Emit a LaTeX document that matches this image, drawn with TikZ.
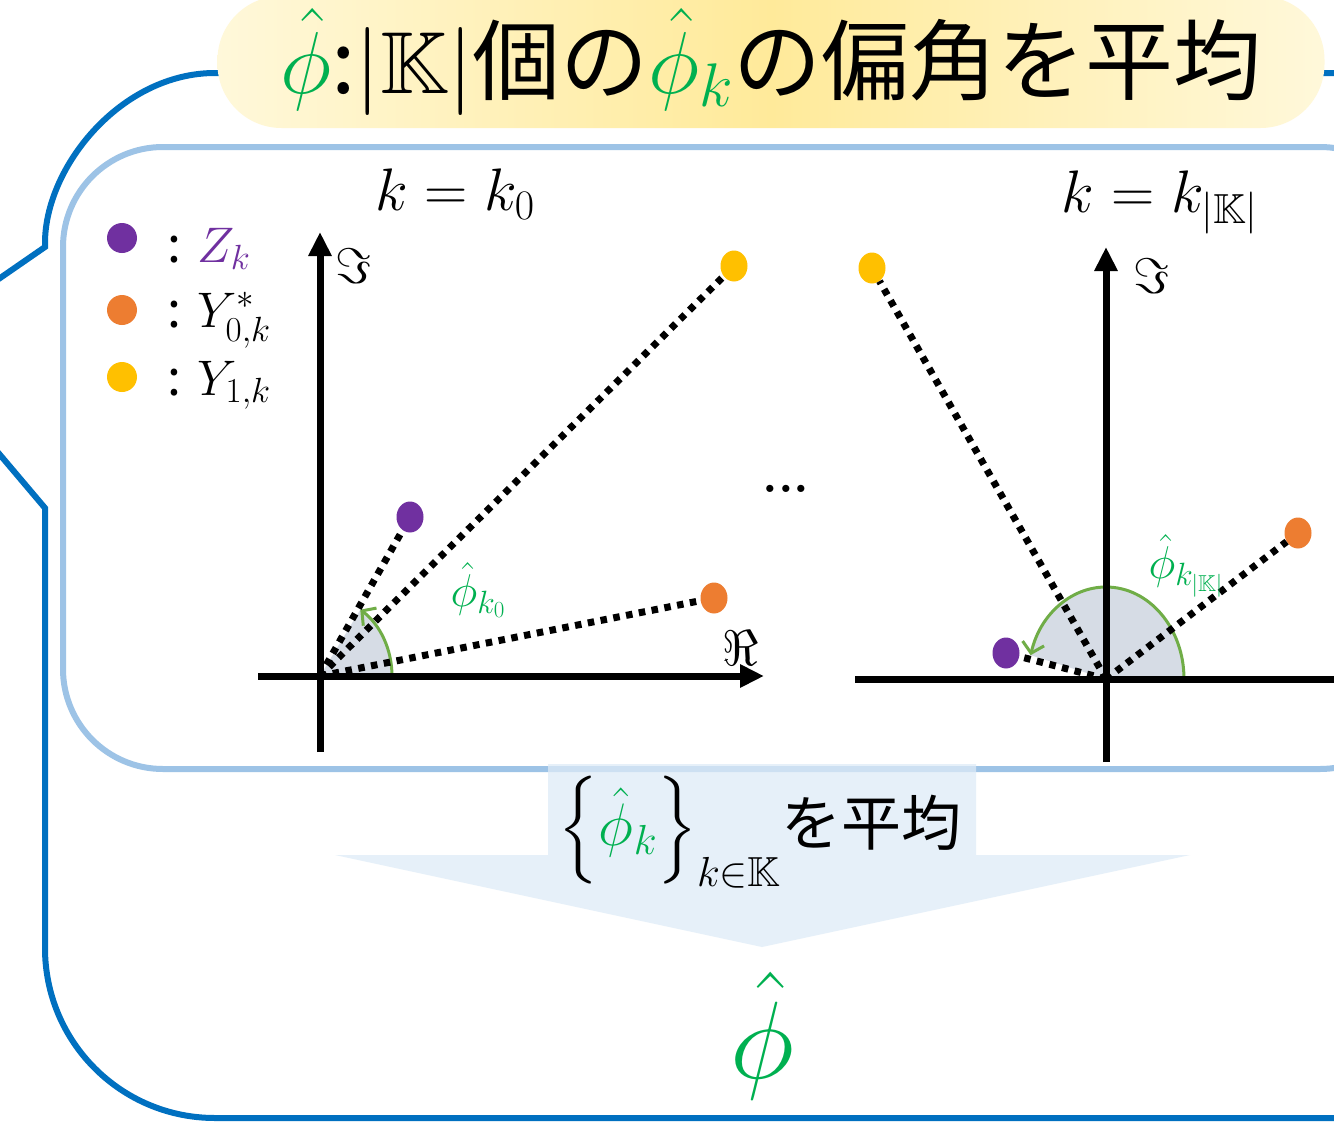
\documentclass[tikz,border=0pt]{standalone}
\usepackage{fix-cm}
\usepackage{amsmath,amssymb}
\usepackage{fontspec}
\usepackage{xcolor}
\usetikzlibrary{arrows.meta,positioning,shapes.geometric}
\newfontfamily\jpfont{Noto Sans CJK JP}
% scalable blackboard bold for the large labels
\DeclareFontFamily{U}{msb}{}
\DeclareFontShape{U}{msb}{m}{n}{<-6> msbm5 <6-8> msbm7 <8-> msbm10}{}
\newcommand{\fsz}[1]{\fontsize{#1pt}{#1pt}\selectfont}
\definecolor{calloutblue}{HTML}{0070C0}
\definecolor{panelblue}{HTML}{9DC3E6}
\definecolor{arrowblue}{HTML}{DEEBF7}
\definecolor{zpurple}{HTML}{7030A0}
\definecolor{yorange}{HTML}{ED7D31}
\definecolor{yyellow}{HTML}{FFC000}
\definecolor{phigreen}{HTML}{00B050}
\definecolor{arcgreen}{HTML}{70AD47}
\definecolor{wedgegray}{HTML}{D6DCE5}
\definecolor{titlelight}{HTML}{FFF8DA}
\definecolor{titledark}{HTML}{FFEA9A}

\begin{document}
\begin{tikzpicture}[
  x=1pt, y=-1pt,
  callout/.style={draw=calloutblue, line width=6pt},
  panel/.style={draw=panelblue, line width=6pt, rounded corners=100pt},
  titlebox/.style={rounded corners=64pt, minimum width=1107pt, minimum height=132pt,
                   left color=titlelight, right color=titlelight, middle color=titledark,
                   font=\jpfont\fsz{88}, inner sep=0pt},
  axis/.style={line width=7pt},
  axtip/.style={-{Triangle[length=24pt,width=22pt]}},
  dotline/.style={line width=7pt, dash pattern=on 6.5pt off 6.5pt},
  wedge/.style={fill=wedgegray},
  anglearc/.style={draw=arcgreen, line width=3pt, -{Straight Barb[length=10pt,width=22pt]}},
  dotnode/.style={ellipse, minimum width=27pt, minimum height=31pt, inner sep=0pt},
  legdot/.style={circle, minimum size=30pt, inner sep=0pt},
  legtext/.style={font=\fsz{50}, inner sep=0pt, anchor=base west},
  headtext/.style={font=\fsz{60}, inner sep=0pt},
  axlabel/.style={font=\fsz{50}, inner sep=0pt},
  anglabel/.style={font=\fsz{46}, text=phigreen, inner sep=0pt}
]
\useasboundingbox (0,0) rectangle (1334,1135);
\clip (0,0) rectangle (1334,1135);
\fill[white] (0,0) rectangle (1334,1135);

% outer callout
\draw[callout] (1345,73) -- (215,73) .. controls (121,73) and (45,167) .. (45,243)
  -- (45,247) -- (-10,285) (-10,443) -- (45,508) -- (45,948)
  .. controls (45,1042) and (121,1118) .. (215,1118) -- (1345,1118);

% title
\node[titlebox] (title) at (771,62)
  {{\color{phigreen}$\hat\phi$}:$|\mathbb{K}|$個の{\color{phigreen}$\hat\phi_k$}の偏角を平均};

% inner panel
\draw[panel] (63,147) rectangle (1420,769);

% down arrow
\fill[arrowblue, fill opacity=0.75] (548,764) -- (976,764) -- (976,855) -- (1190,855)
  -- (762,947) -- (335,855) -- (548,855) -- cycle;
\node[font=\jpfont\fsz{60}, inner sep=0pt] (avg) at (760,832)
  {$\left\{{\color{phigreen}\hat\phi_k}\right\}_{k\in\mathbb{K}}$を平均};
\node[font=\fsz{110}, text=phigreen, inner sep=0pt] (phimean) at (762,1036) {$\hat\phi$};

% legend
\node[legdot, fill=zpurple] (lz) at (122,238) {};
\node[legdot, fill=yorange] (ly0) at (122,310) {};
\node[legdot, fill=yyellow] (ly1) at (122,377) {};
\node[legtext, xshift=30pt, yshift=-24pt] (lzt) at (lz.east)
  {{\jpfont:}\hspace{16pt}{\color{zpurple}$Z_k$}};
\node[legtext, xshift=30pt, yshift=-17pt] (ly0t) at (ly0.east)
  {{\jpfont:}\hspace{16pt}$Y^*_{0,k}$};
\node[legtext, xshift=30pt, yshift=-18pt] (ly1t) at (ly1.east)
  {{\jpfont:}\hspace{16pt}$Y_{1,k}$};

% left plane, k = k_0
\coordinate (o0) at (320,676);
\coordinate (re0l) at (258,676);
\coordinate (re0r) at (764,676);
\coordinate (im0b) at (320,752);
\coordinate (im0t) at (320,232);
\node[headtext] (head0) at (455,194) {$k = k_0$};
\fill[wedge] (o0) -- ++(72pt,0pt) arc[start angle=0, end angle=56, x radius=72pt, y radius=80pt] -- cycle;
\draw[anglearc] (o0) ++(72pt,0pt) arc[start angle=0, end angle=56, x radius=72pt, y radius=80pt];
\node[dotnode, fill=zpurple] (z0) at (410,517) {};
\node[dotnode, fill=yyellow] (y10) at (734,266) {};
\node[dotnode, fill=yorange] (y00) at (714,598) {};
\draw[dotline] (o0) -- (z0);
\draw[dotline] (o0) -- (y10);
\draw[dotline] (o0) -- (y00);
\draw[axis, axtip] (re0l) -- (re0r);
\draw[axis, axtip] (im0b) -- (im0t);
\node[axlabel] (im0) at (354,266) {$\Im$};
\node[axlabel] (re0) at (741,648) {$\Re$};
\node[anglabel] (ang0) at (478,590) {$\hat\phi_{k_0}$};

\node[font=\bfseries\fsz{50}, inner sep=0pt, anchor=base] (gap) at (786,492) {...};

% right plane, k = k_|K|
\coordinate (o1) at (1106,679);
\coordinate (re1l) at (855,679);
\coordinate (re1r) at (1345,679);
\coordinate (im1b) at (1106,762);
\coordinate (im1t) at (1106,247);
\node[headtext] (head1) at (1160,202) {$k = k_{|\mathbb{K}|}$};
\fill[wedge] (o1) -- ++(78pt,0pt) arc[start angle=0, end angle=165, x radius=78pt, y radius=92pt] -- cycle;
\draw[anglearc] (o1) ++(78pt,0pt) arc[start angle=0, end angle=165, x radius=78pt, y radius=92pt];
\node[dotnode, fill=yyellow] (y11) at (872,268) {};
\node[dotnode, fill=zpurple] (z1) at (1006,653) {};
\node[dotnode, fill=yorange] (y01) at (1298,533) {};
\draw[dotline] (o1) -- (y11);
\draw[dotline] (o1) -- (z1);
\draw[dotline] (o1) -- (y01);
\draw[axis] (re1l) -- (re1r);
\draw[axis, axtip] (im1b) -- (im1t);
\node[axlabel] (im1) at (1152,276) {$\Im$};
\node[anglabel] (ang1) at (1186,566) {$\hat\phi_{k_{|\mathbb{K}|}}$};
\end{tikzpicture}
\end{document}
